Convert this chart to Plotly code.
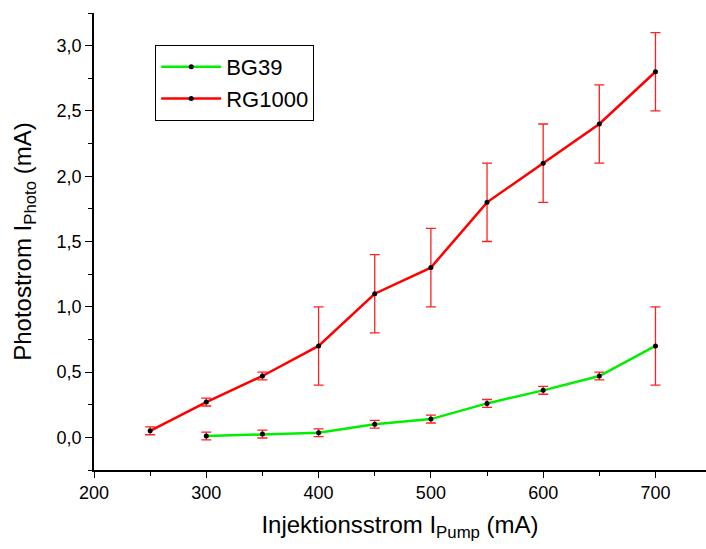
import plotly.graph_objects as go

x_rg = [250, 300, 350, 400, 450, 500, 550, 600, 650, 700]
y_rg = [0.05, 0.27, 0.47, 0.70, 1.10, 1.30, 1.80, 2.10, 2.40, 2.80]
e_rg = [0.03, 0.03, 0.03, 0.30, 0.30, 0.30, 0.30, 0.30, 0.30, 0.30]

x_bg = [300, 350, 400, 450, 500, 550, 600, 650, 700]
y_bg = [0.01, 0.025, 0.035, 0.10, 0.14, 0.26, 0.36, 0.47, 0.70]
e_bg = [0.03, 0.03, 0.03, 0.03, 0.03, 0.03, 0.03, 0.03, 0.30]

FONT = "Liberation Sans, Arial, sans-serif"

fig = go.Figure()
fig.add_trace(go.Scatter(
    x=x_bg, y=y_bg, name="BG39", mode="lines+markers",
    line=dict(color="#00ee00", width=2.5),
    marker=dict(color="black", size=5),
    error_y=dict(type="data", array=e_bg, visible=True, color="#ff2020", thickness=1.3, width=5),
))
fig.add_trace(go.Scatter(
    x=x_rg, y=y_rg, name="RG1000", mode="lines+markers",
    line=dict(color="#ff0000", width=2.5),
    marker=dict(color="black", size=5),
    error_y=dict(type="data", array=e_rg, visible=True, color="#ff2020", thickness=1.3, width=5),
))

fig.update_layout(
    width=706, height=549,
    margin=dict(l=94, r=0, t=13, b=79),
    paper_bgcolor="white", plot_bgcolor="white",
    separators=",.",
    font=dict(family=FONT, color="black", size=18),
    legend=dict(
        x=0.1, y=0.93, xanchor="left", yanchor="top",
        bordercolor="black", borderwidth=1, bgcolor="white",
        font=dict(size=22, family=FONT), tracegroupgap=0,
        itemwidth=60,
    ),
    showlegend=True,
)
fig.update_xaxes(
    range=[200, 745], tick0=200, dtick=100,
    showline=True, linecolor="black", linewidth=1.5, mirror=False,
    ticks="outside", ticklen=6, tickwidth=1.3, tickcolor="black",
    minor=dict(dtick=50, tick0=200, ticks="outside", ticklen=4, tickcolor="black", tickwidth=1.3),
    showgrid=False, zeroline=False,
    tickfont=dict(size=18),
    title=dict(text="Injektionsstrom I<sub>Pump</sub> (mA)", font=dict(size=24), standoff=14),
)
fig.update_yaxes(
    range=[-0.25, 3.25], tick0=0, dtick=0.5, tickformat=".1f",
    showline=True, linecolor="black", linewidth=1.5, mirror=False,
    ticks="outside", ticklen=7, tickwidth=1.3, tickcolor="black",
    minor=dict(dtick=0.25, tick0=0, ticks="outside", ticklen=4, tickcolor="black", tickwidth=1.3),
    showgrid=False, zeroline=False,
    tickfont=dict(size=18),
    title=dict(text="Photostrom I<sub>Photo</sub> (mA)", font=dict(size=24), standoff=18),
)

fig.write_html("out.html")
